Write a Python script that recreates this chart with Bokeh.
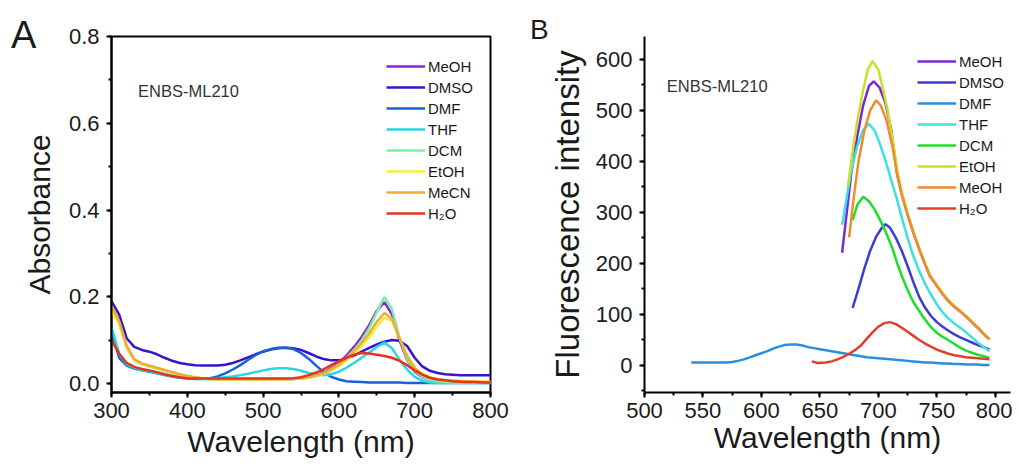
from bokeh.plotting import figure
from bokeh.layouts import row
from bokeh.models import (Legend, LegendItem, SingleIntervalTicker, PrintfTickFormatter, Label, Div)
from bokeh.embed import file_html
from bokeh.resources import INLINE

# ---------------- Panel A data (absorbance) ----------------
wl_A = [300, 310, 320, 330, 340, 350, 360, 370, 380, 390,
        400, 410, 420, 430, 440, 450, 460, 470, 480, 490,
        500, 510, 520, 530, 540, 550, 560, 570, 580, 590,
        600, 610, 620, 630, 640, 650, 660, 670, 680, 690,
        700, 710, 720, 730, 740, 750, 760, 770, 780, 790,
        800]

MeOH_A = [0.175, 0.142, 0.085, 0.055, 0.046, 0.041, 0.036, 0.031, 0.026, 0.021,
          0.017, 0.014, 0.012, 0.011, 0.010, 0.010, 0.010, 0.010, 0.010, 0.010,
          0.010, 0.010, 0.010, 0.010, 0.011, 0.012, 0.015, 0.020, 0.026, 0.036,
          0.048, 0.065, 0.085, 0.108, 0.135, 0.168, 0.188, 0.160, 0.100, 0.055,
          0.028, 0.015, 0.009, 0.006, 0.004, 0.004, 0.003, 0.003, 0.003, 0.003,
          0.003]
DMSO_A = [0.190, 0.160, 0.105, 0.085, 0.078, 0.074, 0.068, 0.060, 0.053, 0.048,
          0.045, 0.043, 0.042, 0.042, 0.042, 0.044, 0.048, 0.054, 0.061, 0.068,
          0.074, 0.079, 0.082, 0.083, 0.082, 0.078, 0.071, 0.063, 0.057, 0.054,
          0.054, 0.058, 0.065, 0.074, 0.083, 0.091, 0.097, 0.101, 0.099, 0.087,
          0.060, 0.040, 0.030, 0.025, 0.022, 0.021, 0.020, 0.020, 0.020, 0.020,
          0.020]
DMF_A = [0.120, 0.060, 0.042, 0.035, 0.031, 0.028, 0.024, 0.020, 0.017, 0.014,
         0.012, 0.011, 0.011, 0.013, 0.017, 0.024, 0.033, 0.043, 0.055, 0.066,
         0.075, 0.080, 0.083, 0.083, 0.080, 0.071, 0.058, 0.042, 0.027, 0.016,
         0.010, 0.006, 0.005, 0.004, 0.003, 0.003, 0.003, 0.003, 0.003, 0.002,
         0.002, 0.002, 0.002, 0.002, 0.002, 0.002, 0.002, 0.002, 0.002, 0.002,
         0.002]
THF_A = [0.130, 0.070, 0.045, 0.037, 0.032, 0.029, 0.025, 0.021, 0.018, 0.015,
         0.013, 0.012, 0.012, 0.012, 0.013, 0.015, 0.017, 0.020, 0.023, 0.027,
         0.031, 0.034, 0.036, 0.036, 0.034, 0.030, 0.025, 0.021, 0.020, 0.022,
         0.028, 0.037, 0.048, 0.060, 0.072, 0.085, 0.095, 0.082, 0.055, 0.033,
         0.016, 0.007, 0.003, 0.002, 0.002, 0.002, 0.002, 0.002, 0.002, 0.002,
         0.002]
DCM_A = [0.170, 0.140, 0.083, 0.054, 0.045, 0.040, 0.035, 0.030, 0.025, 0.020,
         0.016, 0.013, 0.011, 0.010, 0.010, 0.010, 0.010, 0.010, 0.010, 0.010,
         0.010, 0.010, 0.010, 0.010, 0.011, 0.012, 0.014, 0.018, 0.024, 0.034,
         0.045, 0.060, 0.078, 0.100, 0.128, 0.165, 0.200, 0.172, 0.106, 0.057,
         0.030, 0.016, 0.009, 0.006, 0.004, 0.003, 0.003, 0.003, 0.003, 0.003,
         0.003]
EtOH_A = [0.165, 0.138, 0.085, 0.056, 0.046, 0.041, 0.036, 0.031, 0.026, 0.021,
          0.017, 0.014, 0.012, 0.011, 0.010, 0.010, 0.010, 0.010, 0.010, 0.010,
          0.010, 0.010, 0.010, 0.010, 0.011, 0.012, 0.014, 0.018, 0.023, 0.031,
          0.041, 0.054, 0.069, 0.087, 0.107, 0.132, 0.152, 0.145, 0.106, 0.066,
          0.038, 0.023, 0.015, 0.011, 0.009, 0.008, 0.007, 0.006, 0.006, 0.005,
          0.005]
MeCN_A = [0.180, 0.145, 0.088, 0.057, 0.047, 0.042, 0.037, 0.032, 0.027, 0.022,
          0.018, 0.015, 0.013, 0.012, 0.011, 0.011, 0.011, 0.011, 0.011, 0.011,
          0.011, 0.011, 0.011, 0.011, 0.012, 0.013, 0.015, 0.019, 0.025, 0.033,
          0.044, 0.058, 0.075, 0.094, 0.116, 0.143, 0.163, 0.150, 0.105, 0.063,
          0.036, 0.022, 0.014, 0.010, 0.008, 0.007, 0.006, 0.005, 0.005, 0.004,
          0.004]
H2O_A = [0.100, 0.070, 0.048, 0.039, 0.034, 0.031, 0.027, 0.022, 0.018, 0.015,
         0.013, 0.012, 0.012, 0.012, 0.012, 0.012, 0.012, 0.012, 0.012, 0.012,
         0.012, 0.012, 0.012, 0.012, 0.013, 0.015, 0.020, 0.026, 0.034, 0.043,
         0.052, 0.060, 0.067, 0.071, 0.070, 0.067, 0.064, 0.060, 0.053, 0.043,
         0.031, 0.021, 0.014, 0.010, 0.008, 0.006, 0.005, 0.004, 0.004, 0.003,
         0.003]

labels_A = ["MeOH", "DMSO", "DMF", "THF", "DCM", "EtOH", "MeCN", "H\u2082O"]
colors_A = ["#8A22D8", "#3414CC", "#1462D6", "#28D6E6", "#7CF0A4", "#F4EE3C", "#F0AC30", "#E4341E"]
series_A = [MeOH_A, DMSO_A, DMF_A, THF_A, DCM_A, EtOH_A, MeCN_A, H2O_A]

# ---------------- Panel B data (fluorescence) ----------------
MeOH_B_x = [669, 673, 677, 682, 687, 692, 696, 701, 706, 711, 716, 720, 725, 730, 735, 740, 744, 750, 755, 760, 765, 770, 775, 780, 785, 790, 795]
MeOH_B_y = [221, 300, 380, 450, 510, 548, 557, 545, 515, 462, 376, 336, 296, 260, 228, 198, 176, 156, 140, 126, 115, 106, 96, 85, 74, 62, 51]
DMSO_B_x = [678, 683, 688, 693, 698, 703, 706, 710, 715, 720, 725, 730, 735, 740, 745, 750, 755, 760, 765, 770, 775, 780, 785, 790, 795]
DMSO_B_y = [113, 150, 190, 225, 252, 270, 277, 270, 250, 225, 195, 163, 134, 113, 97, 85, 76, 68, 61, 55, 50, 45, 40, 36, 31]
DMF_B_x = [540, 545, 550, 555, 560, 565, 570, 575, 580, 585, 590, 595, 600, 605, 610, 615, 620, 625, 630, 635, 640, 645, 650, 655, 660, 665, 670, 675, 680, 685, 690, 695, 700, 705, 710, 715, 720, 725, 730, 735, 740, 745, 750, 755, 760, 765, 770, 775, 780, 785, 790, 795]
DMF_B_y = [6, 6, 6, 6, 6, 6, 6, 7, 9, 12, 16, 20, 24, 28, 33, 37, 40, 41, 41, 39, 36, 34, 32, 30, 28, 26, 24, 22, 20, 18, 16, 15, 14, 13, 12, 11, 10, 9, 8, 7, 6, 6, 5, 4, 4, 3, 3, 2, 2, 2, 1, 1]
THF_B_x = [669, 673, 677, 682, 687, 692, 697, 702, 707, 712, 716, 720, 725, 730, 735, 740, 744, 750, 755, 760, 765, 770, 775, 780, 785, 790, 795]
THF_B_y = [276, 330, 385, 430, 462, 474, 460, 430, 395, 355, 325, 290, 250, 214, 185, 160, 143, 120, 104, 92, 82, 74, 65, 55, 45, 36, 28]
DCM_B_x = [678, 682, 687, 692, 697, 702, 707, 712, 716, 720, 725, 730, 736, 740, 745, 750, 755, 759, 765, 770, 775, 780, 785, 790, 795]
DCM_B_y = [285, 315, 331, 322, 305, 283, 258, 230, 201, 176, 148, 124, 103, 90, 75, 64, 56, 51, 42, 35, 29, 25, 21, 18, 15]
EtOH_B_x = [674, 678, 682, 687, 691, 695, 700, 704, 708, 712, 716, 720, 725, 730, 735, 740, 744, 750, 755, 760, 765, 770, 775, 780, 785, 790, 795]
EtOH_B_y = [352, 420, 480, 540, 580, 597, 580, 541, 500, 445, 385, 340, 298, 262, 230, 200, 178, 158, 142, 128, 117, 107, 97, 86, 75, 63, 52]
MeOH2_B_x = [675, 679, 683, 688, 693, 698, 702, 707, 712, 716, 720, 725, 730, 735, 740, 744, 750, 755, 760, 765, 770, 775, 780, 785, 790, 795]
MeOH2_B_y = [251, 330, 400, 460, 500, 520, 510, 480, 430, 375, 335, 295, 260, 228, 198, 176, 156, 140, 126, 115, 106, 96, 85, 74, 62, 51]
H2O_B_x = [643, 648, 655, 660, 665, 670, 675, 680, 685, 690, 695, 700, 705, 710, 715, 720, 725, 730, 735, 740, 745, 750, 755, 760, 765, 770, 775, 780, 785, 790, 795]
H2O_B_y = [8, 5, 6, 8, 12, 17, 23, 30, 39, 52, 65, 76, 83, 85, 81, 74, 66, 58, 50, 43, 37, 31, 27, 23, 20, 18, 16, 15, 14, 13, 12]

labels_B = ["MeOH", "DMSO", "DMF", "THF", "DCM", "EtOH", "MeOH", "H\u2082O"]
colors_B = ["#7A2AD4", "#3C3CD4", "#2A8EE0", "#3EE0E0", "#22DC2A", "#C8E02A", "#F08C2C", "#E0402A"]
series_B = [(MeOH_B_x, MeOH_B_y), (DMSO_B_x, DMSO_B_y), (DMF_B_x, DMF_B_y), (THF_B_x, THF_B_y),
            (DCM_B_x, DCM_B_y), (EtOH_B_x, EtOH_B_y), (MeOH2_B_x, MeOH2_B_y), (H2O_B_x, H2O_B_y)]

FONT = "Liberation Sans"
TXT = "#1a1a1a"


def style_axes(p, xlabel, ylabel, xint, yint, xl_standoff, yl_standoff, ylabel_size):
    p.xaxis.ticker = SingleIntervalTicker(interval=xint, num_minor_ticks=2)
    p.yaxis.ticker = SingleIntervalTicker(interval=yint, num_minor_ticks=2)
    p.xaxis.axis_label = xlabel
    p.yaxis.axis_label = ylabel
    for ax in (p.xaxis[0], p.yaxis[0]):
        ax.axis_line_width = 2
        ax.axis_line_color = "black"
        ax.major_tick_line_width = 2
        ax.minor_tick_line_width = 2
        ax.major_tick_out = 5
        ax.major_tick_in = 0
        ax.minor_tick_out = 3
        ax.minor_tick_in = 0
        ax.major_label_text_font = FONT
        ax.major_label_text_font_size = "22px"
        ax.major_label_text_color = TXT
        ax.axis_label_text_font = FONT
        ax.axis_label_text_font_style = "normal"
        ax.axis_label_text_color = TXT
    p.xaxis.axis_label_text_font_size = "30px"
    p.yaxis.axis_label_text_font_size = ylabel_size
    p.xaxis.major_label_standoff = 5
    p.yaxis.major_label_standoff = 7
    p.xaxis.axis_label_standoff = xl_standoff
    p.yaxis.axis_label_standoff = yl_standoff
    p.xgrid.visible = False
    p.ygrid.visible = False


def make_legend(p, renderers, labels, loc):
    items = [LegendItem(label=l, renderers=[r]) for l, r in zip(labels, renderers)]
    leg = Legend(items=items, location=loc, orientation="vertical",
                 glyph_width=39, glyph_height=20, label_height=20, spacing=1,
                 padding=0, margin=0, label_standoff=3,
                 border_line_color=None, background_fill_alpha=0,
                 label_text_font=FONT, label_text_font_size="15px", label_text_color=TXT)
    p.add_layout(leg, "center")


# ---------------- Panel A ----------------
pA = figure(width=528, height=466, x_range=(300, 800), y_range=(-0.02, 0.8),
            min_border_left=111, min_border_right=38, min_border_top=36, min_border_bottom=74,
            output_backend="svg", toolbar_location=None)
pA.outline_line_color = "black"
pA.outline_line_width = 2
pA.outline_line_alpha = 1
style_axes(pA, "Wavelength (nm)", "Absorbance", 100, 0.2, 4, 10, "30px")
pA.yaxis.formatter = PrintfTickFormatter(format="%.1f")

rA = []
for ys, c in zip(series_A, colors_A):
    rA.append(pA.line(wl_A, ys, line_color=c, line_width=2.5))
make_legend(pA, rA, labels_A, (275, 169))

pA.add_layout(Label(x=335, y=0.674, text="ENBS-ML210", text_font=FONT, text_font_size="16.5px",
                    text_color="#333333", text_baseline="alphabetic"))

# ---------------- Panel B ----------------
pB = figure(width=484, height=466, x_range=(500, 813), y_range=(-53, 645),
            min_border_left=116, min_border_right=2, min_border_top=36, min_border_bottom=74,
            output_backend="svg", toolbar_location=None)
pB.outline_line_color = None
style_axes(pB, "Wavelength (nm)", "Fluorescence intensity", 50, 100, 0, 7, "33px")

rB = []
for (xs, ys), c in zip(series_B, colors_B):
    rB.append(pB.line(xs, ys, line_color=c, line_width=2.5))
make_legend(pB, rB, labels_B, (273, 174))

pB.add_layout(Label(x=519, y=547, text="ENBS-ML210", text_font=FONT, text_font_size="16.5px",
                    text_color="#333333", text_baseline="alphabetic"))

# panel letters as absolutely positioned Divs (annotations are clipped to the frame)
divA = Div(text="A", width=30, height=40,
           styles={"position": "absolute", "left": "11px", "top": "16px",
                   "font-family": FONT, "font-size": "38px", "line-height": "1",
                   "color": TXT, "margin": "0", "padding": "0"})
divB = Div(text="B", width=30, height=34,
           styles={"position": "absolute", "left": "530px", "top": "16px",
                   "font-family": FONT, "font-size": "28px", "line-height": "1",
                   "color": TXT, "margin": "0", "padding": "0"})

layout = row(pA, pB, divA, divB)
open("out.html", "w").write(file_html(layout, INLINE))
